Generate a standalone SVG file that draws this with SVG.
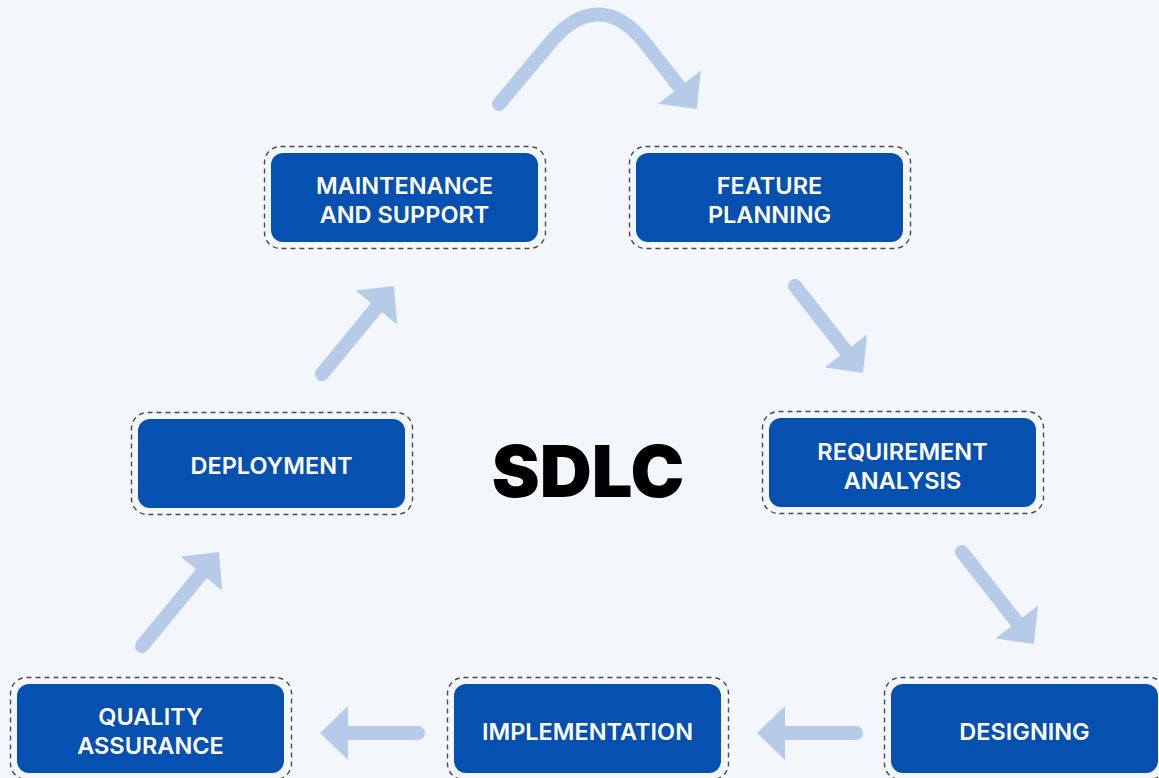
<svg xmlns="http://www.w3.org/2000/svg" width="1159" height="778" viewBox="0 0 1159 778">
<style>
.bg{fill:#f3f6fb}
.box{fill:#0650b0}
.frame{fill:none;stroke:#4a4a4a;stroke-width:1.4;stroke-dasharray:5 4}
.lbl{fill:#ffffff;font-family:Inter,"Noto Sans","Liberation Sans",sans-serif;font-weight:600;font-size:23.5px;text-anchor:middle}
.title{fill:#000000;font-family:Inter,"Liberation Sans",sans-serif;font-weight:900;font-size:72px;text-anchor:middle}
.arr{fill:none;stroke:#b5cbe8;stroke-width:14;stroke-linecap:round;stroke-linejoin:round}
</style>
<defs>
<marker id="head" markerUnits="userSpaceOnUse" viewBox="0 0 28 54" refX="0" refY="27" markerWidth="28" markerHeight="54" orient="auto">
<path d="M0,0 L28,27 L0,54 Z" fill="#b5cbe8"/>
</marker>
</defs>
<rect class="bg" x="0" y="0" width="1159" height="778"/>
<g id="connectors">
<path class="arr" d="M499,104 L550,43 C581.7,5 615.2,5 645,43 L679.5,87" marker-end="url(#head)"/>
<line class="arr" x1="795" y1="286" x2="845.8" y2="350.9" marker-end="url(#head)"/>
<line class="arr" x1="962" y1="552" x2="1016.7" y2="621.9" marker-end="url(#head)"/>
<line class="arr" x1="856" y1="733" x2="785" y2="733" marker-end="url(#head)"/>
<line class="arr" x1="418" y1="733" x2="348" y2="733" marker-end="url(#head)"/>
<line class="arr" x1="142" y1="646" x2="201.3" y2="573.7" marker-end="url(#head)"/>
<line class="arr" x1="322" y1="374" x2="376.3" y2="307.7" marker-end="url(#head)"/>
</g>
<g id="maintenance">
<rect class="frame" x="264.5" y="146.5" width="281" height="102" rx="16"/>
<rect class="box" x="271" y="153" width="267" height="89" rx="12"/>
<text class="lbl" x="404.5" y="194">MAINTENANCE</text>
<text class="lbl" x="404.5" y="223">AND SUPPORT</text>
</g>
<g id="feature-planning">
<rect class="frame" x="629.5" y="146.5" width="281" height="102" rx="16"/>
<rect class="box" x="636" y="153" width="267" height="89" rx="12"/>
<text class="lbl" x="769.5" y="194">FEATURE</text>
<text class="lbl" x="769.5" y="223">PLANNING</text>
</g>
<g id="deployment">
<rect class="frame" x="131.5" y="412.5" width="281" height="102" rx="16"/>
<rect class="box" x="138" y="419" width="267" height="89" rx="12"/>
<text class="lbl" x="271.5" y="474">DEPLOYMENT</text>
</g>
<g id="requirement-analysis">
<rect class="frame" x="762.5" y="411.5" width="281" height="102" rx="16"/>
<rect class="box" x="769" y="418" width="267" height="89" rx="12"/>
<text class="lbl" x="902.5" y="460">REQUIREMENT</text>
<text class="lbl" x="902.5" y="489">ANALYSIS</text>
</g>
<g id="quality-assurance">
<rect class="frame" x="10.5" y="677.5" width="281" height="102" rx="16"/>
<rect class="box" x="17" y="684" width="267" height="89" rx="12"/>
<text class="lbl" x="150.5" y="725">QUALITY</text>
<text class="lbl" x="150.5" y="754">ASSURANCE</text>
</g>
<g id="implementation">
<rect class="frame" x="447.5" y="677.5" width="281" height="102" rx="16"/>
<rect class="box" x="454" y="684" width="267" height="89" rx="12"/>
<text class="lbl" x="587.5" y="740">IMPLEMENTATION</text>
</g>
<g id="designing">
<rect class="frame" x="884.5" y="677.5" width="281" height="102" rx="16"/>
<rect class="box" x="891" y="684" width="267" height="89" rx="12"/>
<text class="lbl" x="1024.5" y="740">DESIGNING</text>
</g>
<g id="title">
<text class="title" x="588" y="497">SDLC</text>
</g>
</svg>
